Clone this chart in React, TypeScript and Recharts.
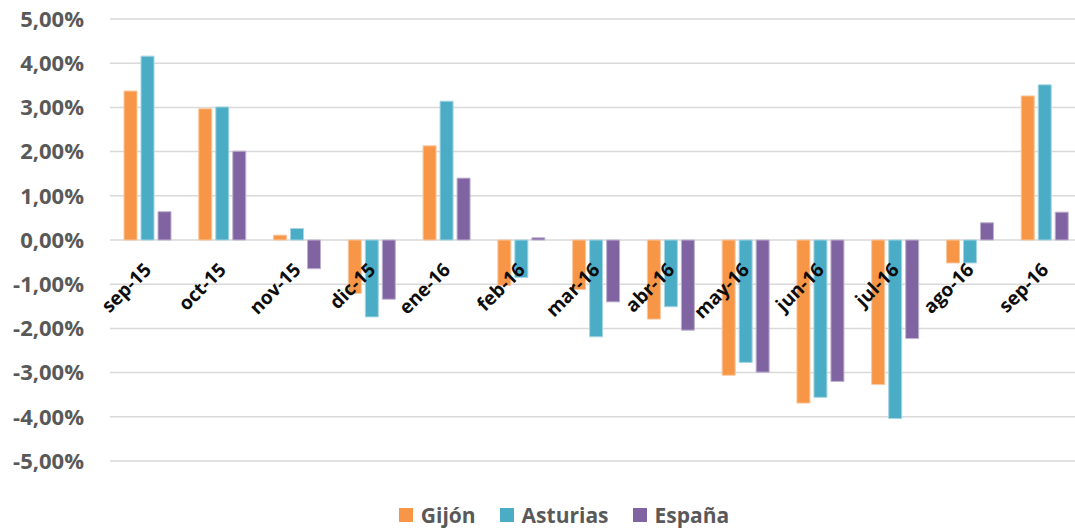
import { ComposedChart, Bar, Line, XAxis, YAxis, CartesianGrid, Legend, LabelList } from 'recharts'

const months = ['sep-15', 'oct-15', 'nov-15', 'dic-15', 'ene-16', 'feb-16', 'mar-16', 'abr-16', 'may-16', 'jun-16', 'jul-16', 'ago-16', 'sep-16']
const gijon = [3.37, 2.97, 0.11, -1.21, 2.13, -1.03, -1.12, -1.79, -3.06, -3.69, -3.27, -0.52, 3.26]
const asturias = [4.16, 3.01, 0.26, -1.74, 3.14, -0.85, -2.19, -1.51, -2.77, -3.56, -4.04, -0.52, 3.51]
const espana = [0.64, 2.01, -0.65, -1.34, 1.4, 0.05, -1.4, -2.04, -2.99, -3.2, -2.23, 0.39, 0.63]
const yTicks = [-5, -4, -3, -2, -1, 0, 1, 2, 3, 4, 5]

const data = months.map((m, i) => ({
  mes: m,
  gijon: gijon[i],
  asturias: asturias[i],
  espana: espana[i],
}))

const series = [
  { key: 'gijon', name: 'Gijón', color: '#F79646', edge: '#FBC79E' },
  { key: 'asturias', name: 'Asturias', color: '#4BACC6', edge: '#A5D5E2' },
  { key: 'espana', name: 'España', color: '#8064A2', edge: '#BFB1D0' },
]

const FONT = '"Open Sans", "DejaVu Sans", sans-serif'

function pct(v: number) {
  return v.toFixed(2).replace('.', ',') + '%'
}

// month names sit just under the zero line, anchored on an invisible line at 0
function MonthLabel(p: any) {
  const x = p.x + 5
  const y = p.y + 31
  return (
    <text
      x={x}
      y={y}
      transform={`rotate(-45, ${x}, ${y})`}
      textAnchor="end"
      fontFamily={FONT}
      fontWeight={700}
      fontSize={19}
      fill="#0d0d0d"
    >
      {p.value}
    </text>
  )
}

function LegendBox() {
  return (
    <div style={{ height: 67, display: 'flex', alignItems: 'flex-end', justifyContent: 'center', paddingLeft: 70 }}>
      {series.map((s) => (
        <div key={s.key} style={{ display: 'flex', alignItems: 'center', height: 26, marginRight: 24 }}>
          <span style={{ width: 14, height: 14, background: s.color, marginRight: 8, display: 'inline-block' }} />
          <span style={{ fontFamily: FONT, fontWeight: 700, fontSize: 21, color: '#595959' }}>{s.name}</span>
        </div>
      ))}
    </div>
  )
}

export default function App() {
  return (
    <div style={{ position: 'absolute', left: 0, top: 0, width: 1075, height: 528, overflow: 'hidden', background: '#fff' }}>
      <ComposedChart width={1090} height={528} data={data} margin={{ top: 19, right: 8, bottom: 0, left: 0 }} barSize={13} barGap={4}>
        <CartesianGrid vertical={false} stroke="#D9D9D9" strokeWidth={1.5} />
        <XAxis dataKey="mes" hide />
        <YAxis
          domain={[-5, 5]}
          ticks={yTicks}
          tickFormatter={pct}
          axisLine={false}
          tickLine={false}
          tickSize={0}
          tickMargin={26}
          width={110}
          interval={0}
          tick={{ fill: '#595959', fontSize: 22, fontWeight: 700, fontFamily: FONT }}
        />
        {series.map((s) => (
          <Bar key={s.key} dataKey={s.key} name={s.name} fill={s.color} stroke={s.edge} strokeWidth={1} isAnimationActive={false} />
        ))}
        <Line dataKey={() => 0} stroke="none" dot={false} activeDot={false} legendType="none" isAnimationActive={false}>
          <LabelList dataKey="mes" content={MonthLabel} />
        </Line>
        <Legend verticalAlign="bottom" height={67} content={LegendBox} />
      </ComposedChart>
    </div>
  )
}
